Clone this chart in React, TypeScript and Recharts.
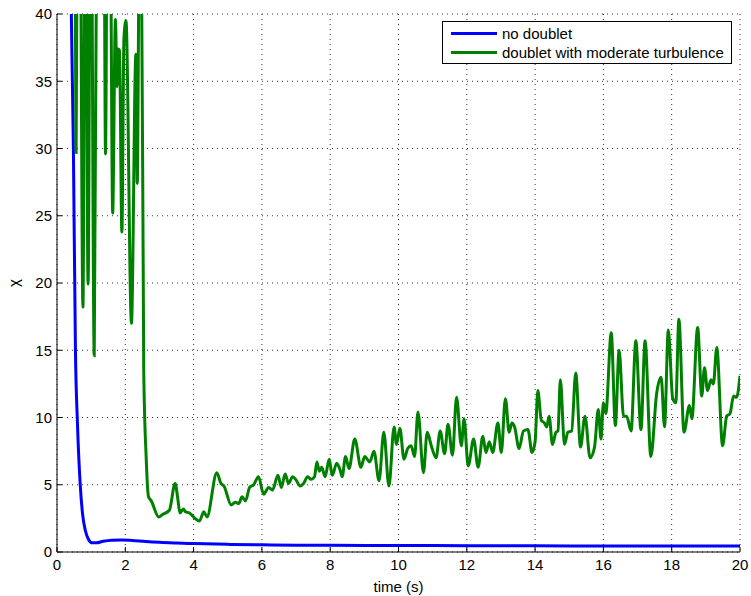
import { LineChart, Line, XAxis, YAxis, CartesianGrid, Legend } from "recharts";

const xTicks = [0, 2, 4, 6, 8, 10, 12, 14, 16, 18, 20];
const yTicks = [0, 5, 10, 15, 20, 25, 30, 35, 40];
const seriesNames = ["no doublet", "doublet with moderate turbulence"];
const seriesColors = ["#0000ff", "#008000"];

// [time (s), chi]
const noDoublet: [number, number][] = [
    [0.38, 50], [0.42, 40], [0.48, 30], [0.54, 15], [0.6, 9.5], [0.68, 5],
    [0.75, 2.8], [0.83, 1.6], [0.92, 0.95], [1.03, 0.68], [1.15, 0.68],
    [1.35, 0.8], [1.6, 0.88], [1.9, 0.9], [2.2, 0.86], [2.6, 0.78],
    [3.0, 0.72], [3.5, 0.67], [4.0, 0.63], [5.0, 0.57], [6.0, 0.53],
    [7.0, 0.51], [8.0, 0.5], [10, 0.48], [12, 0.47], [14, 0.46],
    [16, 0.45], [18, 0.45], [20, 0.44],
];

const doubletTurbulence: [number, number][] = [
    [0.45, 60], [0.53, 45], [0.56, 29.7], [0.6, 52], [0.66, 55], [0.76, 18.2],
    [0.83, 55], [0.91, 19.9], [0.99, 55], [1.09, 14.6], [1.18, 55], [1.3, 60],
    [1.38, 48], [1.42, 29.6], [1.48, 52], [1.56, 48], [1.63, 25.2], [1.71, 39.6],
    [1.76, 34.6], [1.79, 37.4], [1.83, 37.3], [1.9, 23.8], [1.96, 38.2], [2.02, 39.5],
    [2.18, 17.0], [2.31, 37.0], [2.35, 27.4], [2.41, 45], [2.47, 45], [2.54, 13.5],
    [2.61, 7.1], [2.68, 4.1], [2.76, 3.8], [2.98, 2.6], [3.1, 2.8], [3.29, 3.1],
    [3.46, 5.1], [3.54, 3.9], [3.6, 2.9], [3.7, 3.2], [3.76, 3.0], [3.88, 2.9],
    [4.04, 2.5], [4.17, 2.3], [4.3, 3.0], [4.39, 2.6], [4.68, 5.9], [4.8, 5.1],
    [4.89, 4.9], [5.1, 3.5], [5.22, 3.7], [5.32, 3.6], [5.42, 4.1], [5.52, 3.8],
    [5.64, 4.8], [5.76, 5.0], [5.9, 5.6], [6.05, 4.3], [6.2, 4.8], [6.31, 4.6],
    [6.47, 5.7], [6.57, 4.8], [6.68, 5.8], [6.78, 5.1], [6.9, 5.6], [6.99, 5.4],
    [7.12, 4.9], [7.22, 5.1], [7.34, 5.6], [7.44, 5.4], [7.54, 5.6], [7.61, 6.7],
    [7.68, 6.0], [7.75, 6.3], [7.85, 5.6], [7.97, 6.9], [8.06, 5.7], [8.19, 6.6],
    [8.29, 6.1], [8.35, 5.6], [8.45, 7.1], [8.55, 6.2], [8.72, 8.4], [8.9, 6.3],
    [9.01, 7.1], [9.16, 6.7], [9.28, 7.5], [9.43, 5.3], [9.57, 8.9], [9.72, 4.9],
    [9.87, 9.3], [9.94, 8.0], [10.04, 9.2], [10.16, 6.9], [10.27, 7.7], [10.37, 7.9],
    [10.47, 7.1], [10.57, 10.4], [10.73, 5.9], [10.84, 8.9], [10.96, 7.9], [11.1, 7.0],
    [11.22, 9.0], [11.35, 7.3], [11.45, 9.5], [11.58, 7.2], [11.7, 11.5], [11.84, 7.9],
    [11.92, 9.9], [12.04, 6.4], [12.2, 8.4], [12.33, 6.3], [12.47, 8.6], [12.56, 7.4],
    [12.66, 8.2], [12.76, 7.4], [12.91, 9.6], [13.01, 7.4], [13.13, 11.4], [13.24, 8.9],
    [13.32, 9.6], [13.4, 9.3], [13.53, 7.7], [13.66, 9.0], [13.79, 9.1], [13.91, 7.4],
    [14.0, 8.2], [14.08, 12.0], [14.18, 9.8], [14.27, 9.6], [14.34, 9.3], [14.41, 10.1],
    [14.51, 8.0], [14.61, 8.9], [14.67, 9.0], [14.74, 12.8], [14.86, 8.0], [14.96, 8.9],
    [15.07, 9.0], [15.19, 13.3], [15.33, 7.8], [15.46, 10.1], [15.61, 7.0], [15.74, 7.8],
    [15.85, 10.6], [15.93, 8.4], [16.0, 11.1], [16.07, 10.3], [16.23, 16.3], [16.35, 9.4],
    [16.46, 15.0], [16.59, 10.1], [16.68, 10.1], [16.81, 9.0], [16.95, 15.7], [17.1, 9.1],
    [17.22, 15.7], [17.39, 7.1], [17.56, 11.8], [17.69, 13.0], [17.79, 9.3], [17.9, 16.5],
    [18.03, 11.4], [18.12, 11.1], [18.21, 17.3], [18.36, 8.9], [18.52, 10.9], [18.59, 9.9],
    [18.76, 16.7], [18.88, 11.6], [18.96, 13.7], [19.05, 12.0], [19.15, 12.8], [19.22, 12.5],
    [19.32, 15.2], [19.49, 7.9], [19.61, 10.1], [19.71, 10.3], [19.81, 11.6], [19.9, 11.5],
    [20.0, 13.1],
];

const toRows = (pts: [number, number][]) => pts.map(([t, chi]) => ({ t, chi }));

const font = "'Liberation Sans', Arial, Helvetica, sans-serif";
const tickStyle = { fill: "#000", fontSize: 15, fontFamily: font };

function LegendBox() {
    return (
        <div
            style={{
                border: "1px solid #000",
                background: "#fff",
                width: 290,
                height: 43,
                boxSizing: "border-box",
                padding: "2px 0 0 8px",
                fontFamily: font,
                fontSize: 15,
                color: "#000",
            }}
        >
            {seriesNames.map((name, i) => (
                <div key={name} style={{ display: "flex", alignItems: "center", height: 19 }}>
                    <span style={{ width: 46, height: 0, borderTop: `3px solid ${seriesColors[i]}`, marginRight: 5 }} />
                    <span>{name}</span>
                </div>
            ))}
        </div>
    );
}

export default function App() {
    return (
        <div style={{ position: "absolute", left: 0, top: 0, width: 751, height: 596, background: "#fff" }}>
            <LineChart width={751} height={596} margin={{ top: 14, right: 11, bottom: 0, left: 0 }}>
                <CartesianGrid stroke="#333" strokeDasharray="1 4" />
                <XAxis
                    type="number"
                    dataKey="t"
                    domain={[0, 20]}
                    ticks={xTicks}
                    allowDataOverflow
                    height={44}
                    tickSize={-5}
                    tickMargin={12}
                    stroke="#000"
                    tick={tickStyle}
                    label={{ value: "time (s)", position: "insideBottom", offset: 4, style: { fill: "#000", fontSize: 15, fontFamily: font } }}
                />
                <XAxis
                    xAxisId="top"
                    orientation="top"
                    type="number"
                    dataKey="t"
                    domain={[0, 20]}
                    ticks={xTicks}
                    allowDataOverflow
                    height={0}
                    tick={false}
                    tickSize={-5}
                    stroke="#000"
                />
                <YAxis
                    type="number"
                    domain={[0, 40]}
                    ticks={yTicks}
                    allowDataOverflow
                    width={57}
                    tickSize={-5}
                    tickMargin={10}
                    stroke="#000"
                    tick={tickStyle}
                    label={{ value: "χ", angle: -90, position: "insideLeft", offset: 14, style: { fill: "#000", fontSize: 15, fontFamily: font, textAnchor: "middle" } }}
                />
                <YAxis
                    yAxisId="right"
                    orientation="right"
                    type="number"
                    domain={[0, 40]}
                    ticks={yTicks}
                    allowDataOverflow
                    width={0}
                    tick={false}
                    tickSize={-5}
                    stroke="#000"
                />
                <Legend
                    layout="vertical"
                    align="center"
                    verticalAlign="middle"
                    wrapperStyle={{ top: 21, left: 442, width: 290, height: 43 }}
                    content={() => <LegendBox />}
                />
                <Line
                    data={toRows(noDoublet)}
                    dataKey="chi"
                    name={seriesNames[0]}
                    type="monotone"
                    stroke={seriesColors[0]}
                    strokeWidth={3}
                    dot={false}
                    isAnimationActive={false}
                />
                <Line
                    data={toRows(doubletTurbulence)}
                    dataKey="chi"
                    name={seriesNames[1]}
                    type="monotone"
                    stroke={seriesColors[1]}
                    strokeWidth={3}
                    dot={false}
                    isAnimationActive={false}
                />
            </LineChart>
        </div>
    );
}
